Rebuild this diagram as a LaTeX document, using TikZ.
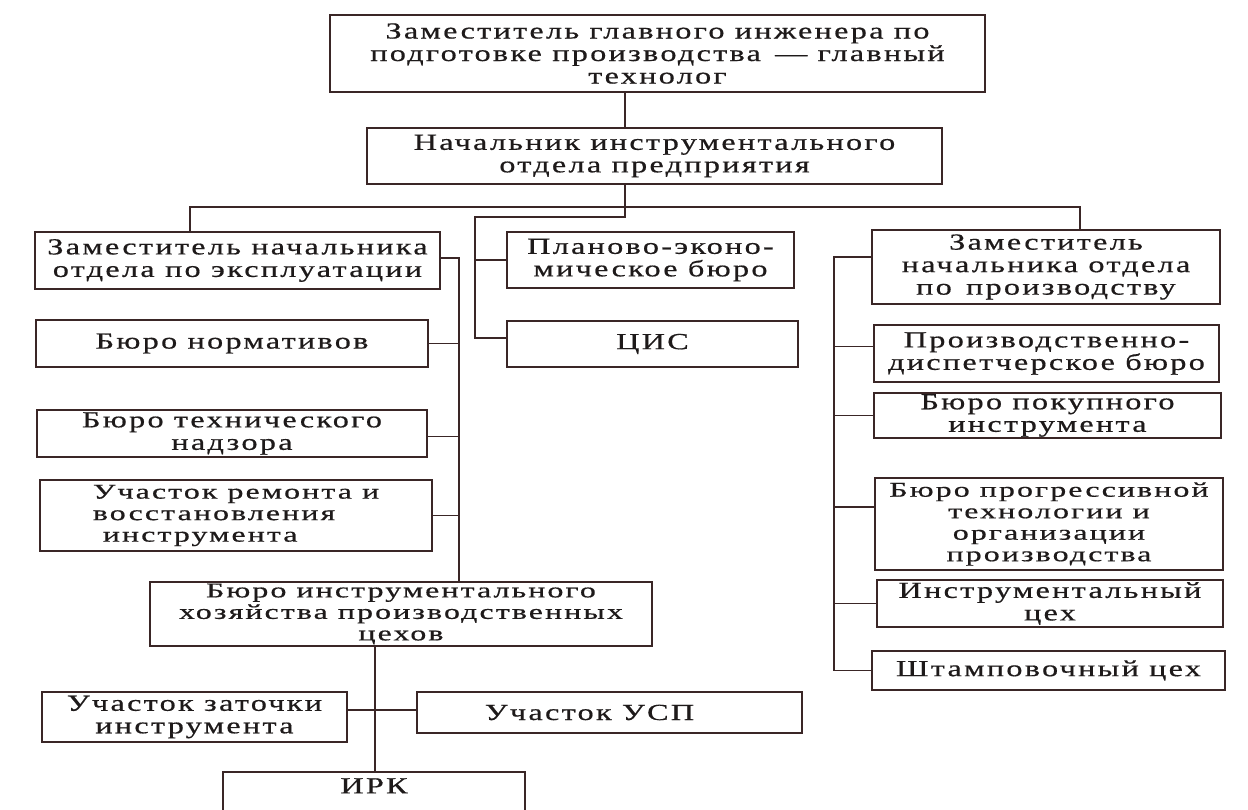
\documentclass[tikz,border=0pt]{standalone}
\usepackage{fontspec}
\setmainfont{Liberation Serif}[FakeStretch=1.4, LetterSpace=10, FakeBold=0.6]
\definecolor{ink}{HTML}{1E1A1A}
\definecolor{wirecol}{HTML}{3A2626}
\begin{document}
\begin{tikzpicture}[x=1pt, y=-1pt,
  box/.style={draw=wirecol, line width=1.9pt, inner sep=0pt, align=center,
    text=ink, font=\fontsize{23}{22.5}\selectfont},
  tight/.style={font=\fontsize{21}{21.5}\selectfont\addfontfeatures{FakeStretch=1.52}},
  wire/.style={draw=wirecol, line width=1.8pt}]
\fill[white] (0,0) rectangle (1248,809);
\clip (0,0) rectangle (1248,809);

% --- head of the structure
\node[box, minimum width=655pt, minimum height=77pt] (top) at (657.5,53.5)
  {Заместитель главного инженера по\\подготовке производства \,— главный\\технолог};
\node[box, minimum width=575pt, minimum height=56pt] (chief) at (654.5,156)
  {Начальник инструментального\\отдела предприятия};

% --- left column
\node[box, minimum width=405pt, minimum height=57pt] (l1) at (237.5,260.5)
  {Заместитель начальника\\отдела по эксплуатации};
\node[box, minimum width=392pt, minimum height=47pt] (l2) at (232,343.5)
  {Бюро нормативов};
\node[box, minimum width=390pt, minimum height=47pt] (l3) at (232,433.5)
  {Бюро технического\\надзора};
\node[box, tight, minimum width=392pt, minimum height=71pt, align=left] (l4) at (236,515.5)
  {Участок ремонта и\\восстановления\\\hspace*{10pt}инструмента};
\node[box, tight, minimum width=502pt, minimum height=64pt] (l5) at (401,614)
  {Бюро инструментального\\хозяйства производственных\\цехов};
\node[box, minimum width=305pt, minimum height=50pt] (l6) at (194.5,717)
  {Участок заточки\\инструмента};
\node[box, minimum width=385pt, minimum height=41pt] (l7) at (609.5,712.5)
  {\hspace*{-40pt}Участок УСП};
\node[box, minimum width=302pt, minimum height=78pt,
  label={[anchor=north, inner sep=0pt, yshift=-7pt, text=ink,
    font=\fontsize{23}{22}\selectfont]north:ИРК}] (l8) at (374,811) {};

% --- middle column
\node[box, minimum width=287pt, minimum height=56pt] (m1) at (650.5,260)
  {Планово-эконо-\\мическое бюро};
\node[box, minimum width=291pt, minimum height=46pt] (m2) at (652.5,344)
  {ЦИС};

% --- right column
\node[box, minimum width=348pt, minimum height=74pt] (r1) at (1046,267)
  {Заместитель\\начальника отдела\\по \,производству};
\node[box, minimum width=345pt, minimum height=57pt] (r2) at (1046.5,353.5)
  {Производственно-\\диспетчерское бюро};
\node[box, minimum width=347pt, minimum height=45pt] (r3) at (1047.5,415.5)
  {Бюро покупного\\инструмента};
\node[box, tight, minimum width=348pt, minimum height=92pt] (r4) at (1049,524)
  {Бюро прогрессивной\\технологии и\\организации\\производства};
\node[box, minimum width=346pt, minimum height=47pt] (r5) at (1050,603.5)
  {Инструментальный\\цех};
\node[box, minimum width=353pt, minimum height=39pt] (r6) at (1048.5,670.5)
  {Штамповочный цех};

% --- junction points of the connectors
\coordinate (axis) at (625,217);
\coordinate (midtop) at (475,217);
\coordinate (busL) at (190,207);
\coordinate (busR) at (1080,207);
\coordinate (lt) at (459,258);
\coordinate (rt) at (834,257);
\coordinate (bt) at (375,710);

% --- connectors
\draw[wire] (top.south -| axis) -- (chief.north -| axis);
\draw[wire] (chief.south -| axis) -- (axis) -- (midtop) |- ([yshift=6pt]m2.west);
\draw[wire] (m1.west -| midtop) -- (m1.west);
\draw[wire] (l1.north -| busL) -- (busL) -- (busR) -- (r1.north -| busR);

\draw[wire] (l1.east |- lt) -- (lt) -- (lt |- l5.north);
\draw[wire] (l2.east) -- (l2.east -| lt);
\draw[wire] ([yshift=-3pt]l3.east) -- ([yshift=-3pt]l3.east -| lt);
\draw[wire] (l4.east) -- (l4.east -| lt);

\draw[wire] (r1.west |- rt) -- (rt) |- (r6.west);
\draw[wire] ([yshift=7pt]r2.west) -- ([yshift=7pt]r2.west -| rt);
\draw[wire] (r3.west) -- (r3.west -| rt);
\draw[wire] ([yshift=17pt]r4.west) -- ([yshift=17pt]r4.west -| rt);
\draw[wire] (r5.west) -- (r5.west -| rt);

\draw[wire] (l5.south -| bt) -- (bt |- l8.north);
\draw[wire] (l6.east |- bt) -- (l7.west |- bt);
\end{tikzpicture}
\end{document}
